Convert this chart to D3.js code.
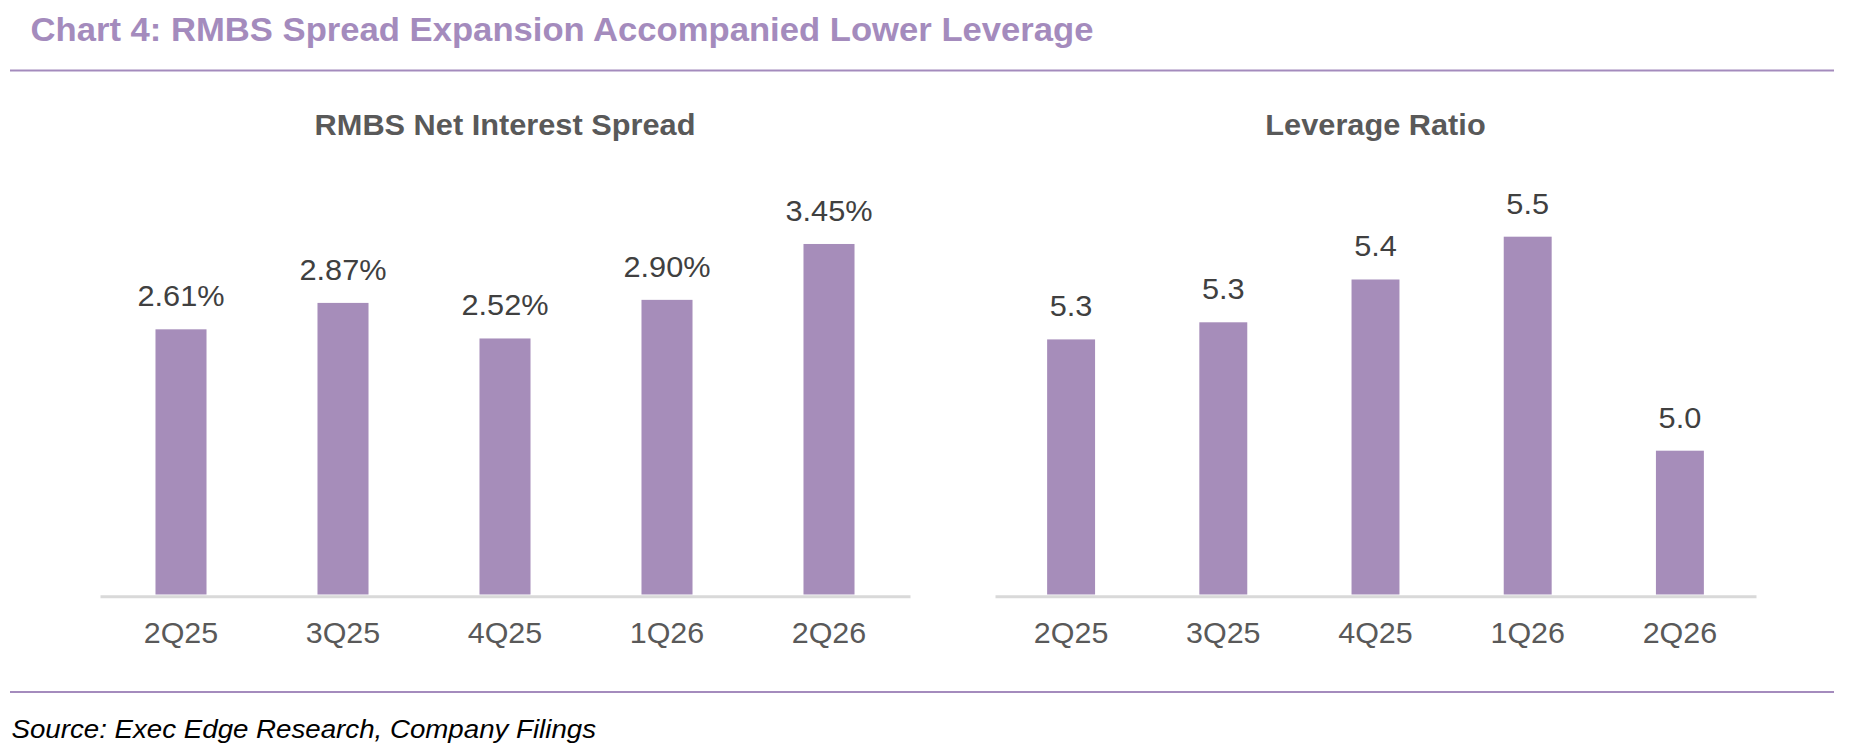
<html>
    <head>
        <style>
            body { margin: 0; background: #fff; }
            text { font-family: "Liberation Sans", Arial, sans-serif; }
        </style>
        <script src="https://d3js.org/d3.v7.min.js"></script>
    </head>
    <body>
        <svg id="chart" width="1850" height="755"></svg>
        <script>
            // data
            const quarters = ['2Q25', '3Q25', '4Q25', '1Q26', '2Q26'];
            const spreadValues = [2.61, 2.87, 2.52, 2.90, 3.45];   // %
            const leverageValues = [5.26, 5.30, 5.40, 5.50, 5.00];  // x

            const purple = '#a68dba';
            const svg = d3.select('#chart');

            // source text is a little wider than Arial, so stretch it slightly
            function label(x, y, str, stretch) {
                return svg.append('text')
                    .attr('transform', `translate(${x},${y}) scale(${stretch || 1.05},1)`)
                    .text(str);
            }

            // title + rules + source
            label(30.5, 40.7, 'Chart 4: RMBS Spread Expansion Accompanied Lower Leverage', 1.066)
                .style('font-size', '32.5px').style('font-weight', 'bold').style('fill', '#a48bbd');

            svg.append('line').attr('x1', 10).attr('x2', 1834).attr('y1', 70.5).attr('y2', 70.5)
                .style('stroke', '#a48bbd').style('stroke-width', 2);
            svg.append('line').attr('x1', 10).attr('x2', 1834).attr('y1', 692).attr('y2', 692)
                .style('stroke', '#a48bbd').style('stroke-width', 2);

            label(11.5, 738, 'Source: Exec Edge Research, Company Filings', 1.065)
                .style('font-size', '26px').style('font-style', 'italic').style('fill', '#000');

            const baseY = 594.5;

            function panel(title, values, xRange, yScale, fmt) {
                const x = d3.scaleBand()
                    .domain(quarters)
                    .range(xRange)
                    .paddingInner(0.685)
                    .paddingOuter(0.3425);

                const midX = (xRange[0] + xRange[1]) / 2;
                label(midX, 135, title, 1.06)
                    .attr('text-anchor', 'middle')
                    .style('font-size', '29px').style('font-weight', 'bold').style('fill', '#595959');

                const g = svg.append('g');

                g.selectAll('rect')
                    .data(values)
                    .join('rect')
                    .attr('x', (d, i) => x(quarters[i]))
                    .attr('y', d => yScale(d))
                    .attr('width', x.bandwidth())
                    .attr('height', d => yScale.range()[0] - yScale(d))
                    .style('fill', purple);

                // x axis: just a grey baseline, labels drawn below
                const axis = svg.append('g')
                    .attr('transform', `translate(0,${baseY + 1.7})`)
                    .call(d3.axisBottom(x).tickSize(0).tickPadding(0));
                axis.select('.domain').style('stroke', '#d9d9d9').style('stroke-width', 3);
                axis.selectAll('text').remove();

                quarters.forEach((q, i) => {
                    label(x(q) + x.bandwidth() / 2, 643, q, 1.04)
                        .attr('text-anchor', 'middle')
                        .style('font-size', '29.3px').style('fill', '#595959');
                });

                values.forEach((v, i) => {
                    label(x(quarters[i]) + x.bandwidth() / 2, yScale(v) - 23, fmt(v), 1.06)
                        .attr('text-anchor', 'middle')
                        .style('font-size', '29px').style('fill', '#404040');
                });
            }

            const ySpread = d3.scaleLinear().domain([0, 4]).range([baseY, baseY - 406.4]);
            const yLev = d3.scaleLinear().domain([4.664, 5.6]).range([baseY, baseY - 0.936 * 428]);

            panel('RMBS Net Interest Spread', spreadValues, [100, 910], ySpread, d => d3.format('.2f')(d) + '%');
            panel('Leverage Ratio', leverageValues, [995, 1756], yLev, d3.format('.1f'));
        </script>
    </body>
</html>
